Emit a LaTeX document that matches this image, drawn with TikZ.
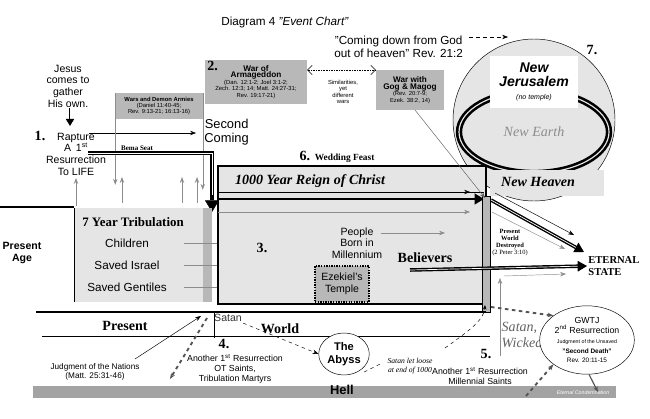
\documentclass[tikz,border=0pt]{standalone}
\usepackage{fontspec}
\setmainfont{Liberation Sans}
\newfontfamily\serif{Liberation Serif}
\usetikzlibrary{arrows.meta,positioning,shapes.geometric}
\definecolor{lgray}{gray}{0.9}
\definecolor{mgray}{gray}{0.72}
\definecolor{dgray}{gray}{0.55}
\tikzset{
  txt/.style={align=center,inner sep=1pt,font=\fontsize{9}{10}\selectfont},
  tiny/.style={align=center,inner sep=1pt,font=\fontsize{5}{5.5}\selectfont},
  ser/.style={inner sep=1pt,font=\serif\bfseries\fontsize{10}{11}\selectfont},
  num/.style={inner sep=1pt,font=\serif\bfseries\fontsize{12}{12}\selectfont},
  arr/.style={-{Stealth[length=5pt]},dgray,thin},
  gbox/.style={fill=mgray,draw=none,align=center,inner sep=2pt}
}
\begin{document}
\begin{tikzpicture}[x=0.03cm,y=-0.03cm]
\useasboundingbox (0,0) rectangle (650,418);

% title
\node[txt,font=\fontsize{10}{11}\selectfont] (title) at (285,22) {Diagram 4 \textit{"Event Chart"}};

% eternal region
\node[circle,draw,fill=lgray,minimum size=162*0.03cm] (circ) at (534,120) {};
\node[ellipse,draw,line width=2.2pt,double=lgray,double distance=1pt,minimum width=150*0.03cm,minimum height=82*0.03cm] (ring) at (534,132) {};
\node[draw=dgray,double,double distance=1.5pt,fill=white,minimum width=86*0.03cm,minimum height=50*0.03cm,align=center,inner sep=1pt] (jer) at (534,82)
  {\bfseries\itshape\fontsize{12}{13}\selectfont New\\\bfseries\itshape\fontsize{12}{13}\selectfont Jerusalem\\[-1pt]\itshape\fontsize{6}{7}\selectfont (no temple)};
\node[txt,font=\serif\itshape\fontsize{12}{13}\selectfont,text=dgray] (earth) at (534,132) {New Earth};
\node[num] (n7) at (592,50) {7.};
\fill[lgray] (490,170) rectangle (604,196);
\node[ser,font=\serif\bfseries\itshape\fontsize{12}{13}\selectfont] (heaven) at (538,182) {New Heaven};
\node[txt,font=\fontsize{10}{11}\selectfont,anchor=west] (down) at (333,47) {"Coming down from God\\out of heaven" Rev. 21:2};
\coordinate (dn1) at (469,37); \coordinate (dn2) at (508,37);
\draw[dashed,-{Stealth[length=5pt]}] (dn1) -- (dn2);

% wars
\node[gbox,minimum width=102*0.03cm,minimum height=44*0.03cm,tiny] (arm) at (256,82)
  {\bfseries\fontsize{7}{8}\selectfont War of\\\bfseries\fontsize{7}{8}\selectfont Armageddon\\(Dan. 12:1-2; Joel 3:1-2;\\Zech. 12:3; 14; Matt. 24:27-31;\\Rev. 19:17-21)};
\node[num,anchor=north west] (n2) at (206,60) {2.};
\node[gbox,minimum width=68*0.03cm,minimum height=40*0.03cm,tiny] (gog) at (410,90)
  {\bfseries\fontsize{7}{8}\selectfont War with\\\bfseries\fontsize{7}{8}\selectfont Gog \& Magog\\(Rev. 20:7-9;\\Ezek. 38:2, 14)};
\node[tiny] (sim) at (343,92) {Similarities,\\yet\\different\\wars};
\draw[densely dotted,{Straight Barb[length=4pt]}-{Straight Barb[length=4pt]}] (arm.east |- 0,70) -- (gog.west |- 0,70);

% left column
\node[txt] (jesus) at (68,86) {Jesus\\comes to\\gather\\His own.};
\coordinate (j1) at (70,108); \coordinate (j2) at (70,126);
\draw[double,thick,-{Triangle[length=6pt,width=7pt]}] (j1) -- (j2);
\node[num] (n1) at (40,136) {1.};
\node[txt] (rapt) at (76,154) {Rapture\\A\, 1\textsuperscript{st}\\Resurrection\\To LIFE};
\coordinate (r1) at (89,133); \coordinate (r2) at (196,133);
\draw[-{Stealth[length=5pt]}] (r1) -- (r2);
\coordinate (u0a) at (76,206); \coordinate (u0b) at (76,178);
\draw[-{Stealth[length=5pt]},dgray,thick] (u0a) -- (u0b);

% demon armies
\node[fill=mgray,minimum width=87*0.03cm,minimum height=26*0.03cm,tiny] (dem) at (159,106)
  {\bfseries Wars and Demon Armies\\(Daniel 11:40-45;\\Rev. 9:13-21; 16:13-16)};
\draw[arr] (dem.north west) -- ++(0,92);
\draw[arr] (dem.north east) -- ++(0,97);
\foreach \ux in {122,182,197} \draw[arr,thick] (\ux,203) -- (\ux,177);
\node[txt,font=\fontsize{11}{12.5}\selectfont,anchor=west] (sec) at (203,132) {Second\\Coming};

% bema seat
\node[ser,font=\serif\bfseries\fontsize{6}{7}\selectfont] (bema) at (137,148) {Bema Seat};
\draw[double,very thick] (88,153) -- (212,153) -- (212,200);
\draw[-{Triangle[length=10pt,width=12pt]}] (212,195) -- (212,212);

% tribulation
\fill[lgray] (74,208) rectangle (210,302);
\fill[mgray] (203,208) rectangle (212,302);
\draw[thick] (74,208) -- (74,302);
\draw[line width=2pt] (0,207) -- (74,207);
\node[ser,font=\serif\bfseries\fontsize{11}{12}\selectfont] (trib) at (133,222) {7 Year Tribulation};
\node[txt,font=\fontsize{10}{11}\selectfont] (child) at (127,243) {Children};
\node[txt,font=\fontsize{10}{11}\selectfont] (isr) at (127,265) {Saved Israel};
\node[txt,font=\fontsize{10}{11}\selectfont] (gent) at (127,287) {Saved Gentiles};
\coordinate (c2) at (270,243); \coordinate (i2) at (270,265); \coordinate (g2) at (293,287);
\draw[arr] (184,243) -- (c2);
\draw[arr] (184,265) -- (i2);
\draw[arr] (184,287) -- (g2);
\node[txt,font=\bfseries\fontsize{9}{10.5}\selectfont] (age) at (22,253) {Present\\Age};

% millennium
\draw[fill=lgray,line width=1.6pt] (218,166) rectangle (486,304);
\draw[thick] (220,192) -- (484,192);
\node[ser,font=\serif\bfseries\itshape\fontsize{12}{13}\selectfont] (reign) at (310,181) {1000 Year Reign of Christ};
\node[ser,font=\serif\bfseries\fontsize{8}{9}\selectfont] (wed) at (337,157) {\fontsize{12}{12}\selectfont 6. \fontsize{8}{9}\selectfont Wedding Feast};
\draw[line width=2.5pt,-{Triangle[length=8pt,width=9pt]}] (218,199) -- (484,199);
\draw[-{Stealth[length=5pt]}] (218,192) -- (470,192);
\draw[arr] (218,212) -- (470,212);
\fill[mgray] (482,196) rectangle (490,312);
\draw (482,196) rectangle (490,312);
\node[num] (n3) at (262,248) {3.};
\node[txt] (born) at (357,243) {People\\Born in\\Millennium};
\coordinate (b2) at (445,233);
\draw[arr] (381,233) -- (b2);
\node[draw,densely dotted,line width=1.2pt,fill=mgray,minimum width=54*0.03cm,minimum height=36*0.03cm,txt] (temple) at (342,284) {Ezekiel's\\Temple};
\node[ser,font=\serif\bfseries\fontsize{12}{13}\selectfont] (bel) at (425,258) {Believers};
\node[tiny,font=\serif\bfseries\fontsize{5.5}{6}\selectfont] (destr) at (510,243) {Present\\World\\Destroyed\\\mdseries(2 Peter 3:10)};
\node[ser,font=\serif\bfseries\fontsize{9}{10}\selectfont,align=left,anchor=west] (eter) at (587,266) {ETERNAL\\STATE};
\draw[double,line width=1.2pt,-{Triangle[length=8pt,width=9pt]}] (410,270) -- (eter.west);
\draw[double,line width=1.2pt,-{Triangle[length=8pt,width=9pt]}] (491,200) -- (584,252);
\draw[-{Stealth[length=5pt]}] (495,193) -- (574,235);
\draw[arr] (492,212) -- (565,249);
\draw[arr] (504,276) -- (566,274);
\coordinate (g1) at (415,110); \coordinate (g3) at (485,198);
\draw[arr,thin,dgray!70!black] (g1) -- (g3);

% world
\draw[line width=1.8pt] (36,312) -- (486,312);
\draw (42,336) -- (490,336);
\node[ser,font=\serif\bfseries\fontsize{12}{13}\selectfont] (pres) at (125,326) {Present};
\node[ser,font=\serif\bfseries\fontsize{12}{13}\selectfont] (world) at (280,329) {World};
\node[txt,text=black!80] (satan) at (228,318) {Satan};
\draw (214,312) -- (214,338);
\node[num] (n4) at (224,344) {4.};
\node[txt,font=\fontsize{7.5}{8.5}\selectfont] (ot) at (235,369) {Another 1\textsuperscript{st} Resurrection\\OT Saints,\\Tribulation Martyrs};
\node[txt,font=\fontsize{7}{8}\selectfont] (nat) at (95,372) {Judgment of the Nations\\(Matt. 25:31-46)};
\coordinate (nt) at (201,316);
\draw[-{Stealth[length=5pt]}] (135,359) -- (nt);
\draw[line width=1.6pt,dashed,dgray!60!black,-{Stealth[length=5pt]}] (207,318) -- (170,379);

% hell
\fill[dgray!80] (33,386) rectangle (616,398);
\node[txt,font=\bfseries\fontsize{11}{12}\selectfont] (hell) at (342,390) {Hell};
\node[tiny,text=white,font=\itshape\fontsize{4.5}{5}\selectfont] (cond) at (583,393) {Eternal Condemnation};
\node[ellipse,draw,fill=white,minimum width=50*0.03cm,minimum height=42*0.03cm,txt,font=\bfseries\fontsize{9.5}{10.5}\selectfont] (abyss) at (344,354) {The\\Abyss};
\draw[dashed,-{Stealth[length=5pt]}] (satan.south east) -- (abyss.west);
\draw (abyss.east |- 0,336) -- (490,336);
\node[tiny,font=\serif\itshape\fontsize{6.5}{7.5}\selectfont] (loose) at (410,366) {Satan let loose\\at end of 1000};
\draw[dashed] (abyss.south east) ++(2,3) -- (380,364);
\draw[dashed,-{Stealth[length=4pt]}] (445,348) .. controls (470,330) and (484,320) .. (485,305);
\node[num] (n5) at (486,354) {5.};
\node[txt,font=\fontsize{7.5}{8.5}\selectfont] (mil) at (480,376) {Another 1\textsuperscript{st} Resurrection\\Millennial Saints};
\coordinate (m2) at (500,278);
\draw[arr] (500,356) -- (m2);
\node[ser,font=\serif\itshape\fontsize{12}{13.5}\selectfont,text=dgray!70!black,align=left] (wick) at (522,335) {Satan,\\Wicked};
\node[ellipse,draw,fill=white,minimum width=86*0.03cm,minimum height=60*0.03cm,tiny,font=\fontsize{7.5}{8.5}\selectfont] (gwtj) at (587,340)
  {GWTJ\\2\textsuperscript{nd} Resurrection\\\fontsize{4.5}{5}\selectfont Judgment of the Unsaved\\\bfseries\fontsize{5.5}{6}\selectfont "Second Death"\\\fontsize{5.5}{6}\selectfont Rev. 20:11-15};
\draw[line width=1.6pt,dashed,dgray!60!black,-{Stealth[length=5pt]}] (491,307) -- (gwtj.north west);
\coordinate (hl) at (526,396);
\draw[line width=1.6pt,dashed,dgray!60!black,-{Stealth[length=5pt]}] (hl) -- (gwtj.south west);
\coordinate (hc) at (598,392);
\draw[line width=1pt,dgray!60!black,-{Stealth[length=5pt]}] (gwtj.south) ++(2,0) -- (hc);
\end{tikzpicture}
\end{document}
